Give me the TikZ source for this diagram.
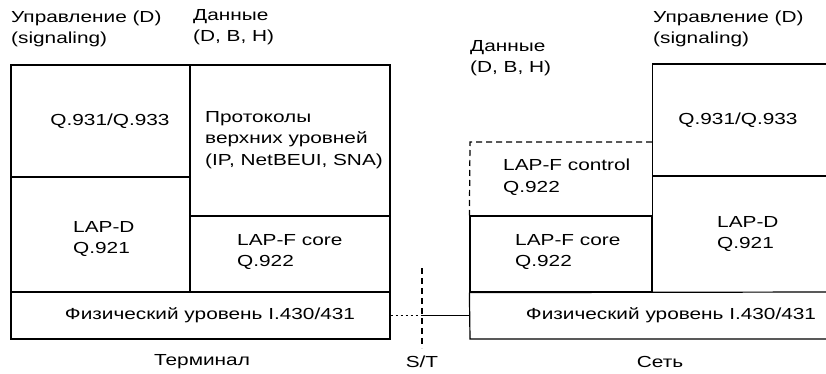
\documentclass[tikz,border=0pt]{standalone}
\usepackage{fontspec}
\setmainfont[FakeStretch=1.3]{Liberation Sans}
\usetikzlibrary{fit}
\begin{document}
\begin{tikzpicture}[x=1pt,y=-1pt,
  every node/.style={font=\fontsize{16}{21.5}\selectfont, inner sep=0pt},
  box/.style={draw, line width=1.2pt, inner sep=0pt, fit={#1}},
  ln/.style={line width=1.2pt},
  dsh/.style={line width=1.2pt, dash pattern=on 6pt off 4pt},
  dotl/.style={line width=1.2pt, dash pattern=on 2pt off 3pt},
  txt/.style={align=left, anchor=west},
  ctxt/.style={align=center, anchor=center}]
\useasboundingbox (0,0) rectangle (826,374);
% left (terminal) stack
\node[box={(11,65) (190,177)}] (q931box) {};
\node[box={(11,177) (190,292)}] (lapdLbox) {};
\node[box={(190,65) (390,216)}] (protbox) {};
\node[box={(190,216) (390,292)}] (lapfLbox) {};
\node[box={(11,292) (390,339)}] (physLbox) {};
% right (network) stack, open towards the right edge
\coordinate (rtop) at (832,64);
\coordinate (rmid) at (832,176);
\coordinate (rbot) at (832,292);
\coordinate (rphb) at (832,339);
\coordinate (ctlTR) at (652,142);
\coordinate (ctlTL) at (470,142);
\node[box={(470,216) (652,292)}] (lapfRbox) {};
\draw[ln] (rtop) -| (lapfRbox.north east) -- (lapfRbox.south east);
\draw[ln] (652,176) -- (rmid);
\draw[ln] (lapfRbox.south west) -- (rbot);
\draw[ln] (lapfRbox.south west) -- (470,339) -- (rphb);
\draw[dsh] (ctlTR) -- (ctlTL) -- (lapfRbox.north west);
% S/T reference point
\coordinate (sttop) at (422,268);
\coordinate (stbot) at (422,348);
\coordinate (stx) at (422,315.5);
\coordinate (physRw) at (470,315.5);
\draw[dsh] (sttop) -- (stbot);
\draw[dotl] (physLbox.east) -- (stx);
\draw[ln] (stx) -- (physRw);
% texts left
\node[txt] (hdrL1) at (11,29) {Управление (D)\\(signaling)};
\node[txt] (hdrL2) at (193,27) {Данные\\(D, B, H)};
\node[ctxt] (q931L) at (110,121) {Q.931/Q.933};
\node[txt] (lapdL) at (73,239) {LAP-D\\Q.921};
\node[txt] (protL) at (205,140) {Протоколы\\верхних уровней\\(IP, NetBEUI, SNA)};
\node[txt] (lapfL) at (237,252) {LAP-F core\\Q.922};
\node[ctxt] (physL) at (210,315) {Физический уровень I.430/431};
\node[ctxt] (term) at (202,362) {Терминал};
\node[ctxt] (stlab) at (422,362) {S/T};
% texts right
\node[txt] (hdrR1) at (653,29) {Управление (D)\\(signaling)};
\node[txt] (hdrR2) at (470,58) {Данные\\(D, B, H)};
\node[ctxt] (q931R) at (738,120) {Q.931/Q.933};
\node[txt] (lapfctl) at (503,177) {LAP-F control\\Q.922};
\node[txt] (lapdR) at (717,234) {LAP-D\\Q.921};
\node[txt] (lapfR) at (515,252) {LAP-F core\\Q.922};
\node[ctxt] (physR) at (671,315) {Физический уровень I.430/431};
\node[ctxt] (net) at (660,362) {Сеть};
\end{tikzpicture}
\end{document}
